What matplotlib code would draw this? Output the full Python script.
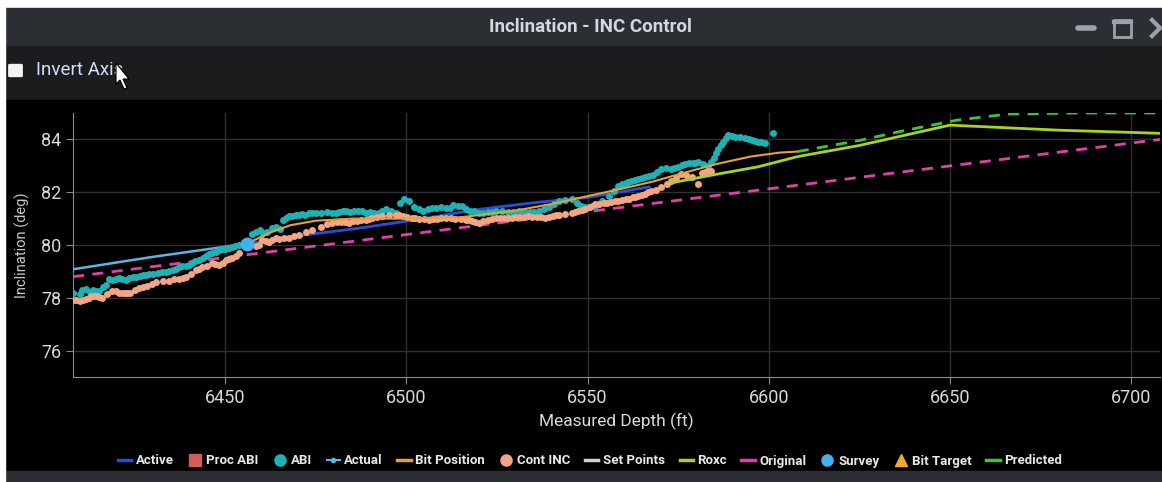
import matplotlib.pyplot as plt
from matplotlib.lines import Line2D
from matplotlib.patches import Rectangle, Polygon, FancyBboxPatch

W, H = 1162, 482

# measured depth (ft) / inclination (deg) for each series
actual_md = [6408, 6430, 6456]
actual_inc = [79.08, 79.55, 80.05]

active_md = [6456, 6470, 6485, 6500, 6520, 6535, 6550, 6567]
active_inc = [80.05, 80.35, 80.6, 80.9, 81.35, 81.6, 81.8, 82.2]

bitpos_md = [6456, 6462, 6468, 6475, 6485, 6500, 6515, 6530, 6540, 6550,
             6560, 6568, 6577, 6586, 6595, 6603, 6608]
bitpos_inc = [80.05, 80.45, 80.75, 80.92, 81.0, 81.0, 81.05, 81.3, 81.55, 81.85,
              82.15, 82.4, 82.75, 83.08, 83.35, 83.5, 83.54]

roxc_md = [6573, 6586, 6597, 6608, 6625, 6650, 6680, 6708]
roxc_inc = [82.35, 82.69, 82.96, 83.35, 83.77, 84.54, 84.35, 84.23]

predicted_md = [6608, 6625, 6638, 6652, 6666, 6685, 6708]
predicted_inc = [83.54, 83.96, 84.35, 84.73, 84.96, 85.0, 85.0]

original_md = [6408, 6708]
original_inc = [78.8, 84.0]

survey_md = [6456]
survey_inc = [80.05]

abi_md = [6408.0, 6409.8, 6411.7, 6413.5, 6415.3, 6417.0, 6418.0, 6419.8, 6421.6, 6423.5,
          6425.5, 6427.3, 6429.1, 6431.4, 6433.7, 6435.5, 6437.3, 6439.1, 6440.9, 6442.8,
          6444.8, 6446.5, 6448.3, 6450.0, 6451.9, 6453.8, 6458.5, 6460.5, 6462.9, 6465.0,
          6466.8, 6468.5, 6470.4, 6472.0, 6474.0, 6476.5, 6479.5, 6481.5, 6483.3, 6485.5,
          6487.7, 6490.0, 6492.4, 6494.4, 6497.1, 6499.3, 6500.7, 6503.4, 6506.0, 6508.1,
          6511.0, 6513.0, 6515.3, 6517.5, 6520.0, 6522.5, 6524.7, 6528.0, 6531.0, 6534.0,
          6536.5, 6539.5, 6542.0, 6545.6, 6548.3, 6550.5, 6552.2, 6555.8, 6558.5, 6560.5,
          6562.1, 6564.0, 6566.0, 6568.0, 6570.4, 6573.1, 6575.0, 6577.0, 6579.0, 6580.6,
          6583.3, 6584.8, 6586.1, 6587.5, 6588.8, 6590.8, 6593.5, 6595.5, 6597.1, 6599.0,
          6601.2,
          6410.5, 6412.6, 6414.4, 6416.2, 6418.9, 6420.7, 6422.5, 6424.5, 6426.4, 6428.2,
          6430.2, 6432.5, 6434.6, 6436.4, 6438.2, 6440.0, 6441.8, 6443.8, 6445.6, 6447.4,
          6449.2, 6451.0, 6452.8, 6457.5, 6459.5, 6461.5, 6464.0, 6466.0, 6467.6, 6469.5,
          6471.2, 6473.0, 6475.2, 6478.0, 6480.5, 6482.4, 6484.4, 6486.6, 6488.8, 6491.2,
          6493.4, 6495.8, 6498.3, 6502.0, 6504.7, 6507.0, 6509.5, 6512.0, 6514.2, 6516.4,
          6518.7, 6521.2, 6523.6, 6526.3, 6529.5, 6532.5, 6535.2, 6538.0, 6540.8, 6543.8,
          6547.0, 6549.4, 6551.3, 6554.0, 6557.2, 6559.5, 6561.3, 6563.0, 6565.0, 6567.0,
          6569.2, 6571.7, 6574.0, 6576.0, 6578.0, 6579.8, 6581.8, 6584.0, 6585.5, 6586.8,
          6588.2, 6589.8, 6592.0, 6594.5, 6596.3, 6598.0]
abi_inc = [78.20, 78.15, 78.35, 78.30, 78.27, 78.50, 78.70, 78.72, 78.70, 78.74,
           78.77, 78.85, 78.90, 78.94, 78.97, 79.05, 79.17, 79.22, 79.30, 79.45,
           79.60, 79.70, 79.80, 79.86, 79.93, 80.00, 80.50, 80.45, 80.65, 80.60,
           81.04, 81.10, 81.15, 81.12, 81.23, 81.20, 81.23, 81.25, 81.27, 81.30,
           81.27, 81.25, 81.23, 81.35, 81.23, 81.73, 81.65, 81.35, 81.38, 81.42,
           81.40, 81.50, 81.46, 81.30, 81.23, 81.25, 81.27, 81.25, 81.27, 81.25,
           81.27, 81.45, 81.65, 81.73, 81.46, 81.45, 81.46, 81.85, 82.23, 82.35,
           82.42, 82.50, 82.58, 82.65, 82.88, 82.88, 82.95, 83.08, 83.10, 83.15,
           83.00, 83.30, 83.65, 83.90, 84.15, 84.10, 84.04, 83.98, 83.92, 83.88,
           84.23,
           78.28, 78.22, 78.25, 78.40, 78.68, 78.75, 78.68, 78.78, 78.82, 78.88,
           78.92, 78.96, 79.00, 79.10, 79.20, 79.26, 79.38, 79.52, 79.66, 79.75,
           79.84, 79.90, 79.96, 80.40, 80.55, 80.50, 80.70, 80.95, 81.08, 81.12,
           81.18, 81.20, 81.22, 81.25, 81.20, 81.28, 81.25, 81.28, 81.22, 81.20,
           81.30, 81.28, 81.60, 81.45, 81.30, 81.40, 81.45, 81.42, 81.48, 81.38,
           81.27, 81.22, 81.25, 81.28, 81.24, 81.28, 81.26, 81.35, 81.55, 81.70,
           81.60, 81.45, 81.48, 81.65, 82.05, 82.30, 82.38, 82.45, 82.55, 82.62,
           82.75, 82.90, 82.92, 83.02, 83.10, 83.12, 83.08, 83.15, 83.50, 83.80,
           84.05, 84.12, 84.08, 84.00, 83.95, 83.90]

cont_md = [6408.0, 6409.8, 6411.7, 6413.0, 6414.5, 6416.1, 6418.9, 6420.8, 6422.3, 6423.6,
           6426.3, 6428.5, 6431.0, 6434.6, 6437.3, 6439.3, 6442.0, 6443.7, 6446.4, 6448.3,
           6450.3, 6451.9, 6453.9, 6459.4, 6460.2, 6462.1, 6464.0, 6464.9, 6467.6, 6470.4,
           6474.0, 6479.5, 6482.0, 6484.2, 6486.5, 6488.8, 6490.5, 6493.3, 6497.1, 6499.0,
           6501.5, 6503.5, 6506.2, 6508.5, 6510.9, 6513.5, 6516.4, 6518.0, 6520.0, 6522.5,
           6524.7, 6527.0, 6529.1, 6531.5, 6533.7, 6536.0, 6538.4, 6540.5, 6542.0, 6545.6,
           6547.5, 6549.4, 6552.2, 6554.5, 6556.6, 6558.5, 6560.5, 6562.5, 6564.0, 6566.0,
           6567.6, 6570.4, 6573.1, 6575.9, 6578.7, 6580.6, 6582.5, 6584.2,
           6408.9, 6410.7, 6412.3, 6413.8, 6415.3, 6417.5, 6419.8, 6421.5, 6423.0, 6425.0,
           6427.4, 6429.8, 6432.8, 6436.0, 6438.3, 6440.6, 6442.8, 6445.0, 6447.3, 6449.3,
           6451.1, 6452.9, 6458.5, 6461.2, 6463.0, 6466.2, 6469.0, 6472.2, 6476.5, 6478.0,
           6480.8, 6483.1, 6485.3, 6487.6, 6489.7, 6491.9, 6495.2, 6498.0, 6500.3, 6502.5,
           6504.8, 6507.3, 6509.7, 6512.2, 6515.0, 6517.2, 6519.0, 6521.2, 6523.6, 6525.8,
           6528.0, 6530.3, 6532.6, 6534.8, 6537.2, 6539.5, 6541.2, 6543.8, 6546.5, 6548.5,
           6550.8, 6553.3, 6555.5, 6557.5, 6559.5, 6561.5, 6563.2, 6565.0, 6566.8, 6569.0,
           6571.8, 6574.5, 6577.3, 6581.5, 6583.3]
cont_inc = [77.92, 77.88, 77.96, 78.05, 78.08, 78.00, 78.27, 78.20, 78.18, 78.20,
            78.38, 78.45, 78.58, 78.65, 78.73, 78.77, 79.04, 79.15, 79.30, 79.23,
            79.42, 79.50, 79.70, 80.00, 80.19, 80.12, 80.27, 80.23, 80.27, 80.38,
            80.58, 80.85, 80.88, 80.85, 80.92, 80.96, 81.04, 81.08, 81.15, 81.10,
            81.04, 81.00, 80.96, 81.00, 81.04, 81.00, 80.96, 80.90, 80.85, 80.95,
            81.04, 81.02, 81.04, 81.06, 81.08, 81.06, 81.04, 81.10, 81.15, 81.23,
            81.28, 81.35, 81.54, 81.58, 81.62, 81.68, 81.73, 81.80, 81.85, 81.95,
            82.04, 82.19, 82.42, 82.69, 82.58, 82.30, 82.77, 82.81,
            77.90, 77.92, 78.00, 78.06, 78.04, 78.15, 78.24, 78.19, 78.19, 78.30,
            78.42, 78.52, 78.62, 78.70, 78.75, 78.90, 79.10, 79.22, 79.27, 79.33,
            79.46, 79.60, 79.95, 80.15, 80.20, 80.25, 80.33, 80.48, 80.70, 80.80,
            80.87, 80.86, 80.90, 80.94, 81.00, 81.06, 81.12, 81.12, 81.07, 81.02,
            80.98, 80.98, 81.02, 81.02, 80.98, 80.93, 80.87, 80.90, 81.00, 81.03,
            81.03, 81.05, 81.07, 81.07, 81.05, 81.07, 81.12, 81.19, 81.25, 81.31,
            81.45, 81.56, 81.60, 81.65, 81.70, 81.76, 81.82, 81.90, 82.00, 82.10,
            82.30, 82.55, 82.64, 82.72, 82.79]

x_ticks = [6450, 6500, 6550, 6600, 6650, 6700]
y_ticks = [76, 78, 80, 82, 84]

NARROW = ['Roboto', 'DejaVu Sans']
TXT = '#d6d8dc'

fig = plt.figure(figsize=(W / 100, H / 100), dpi=100, facecolor='#000000')


def fx(px):
    return px / W


def fy(py):
    return 1 - py / H


def band(x0, y0, x1, y1, color):
    fig.patches.append(Rectangle((fx(x0), fy(y1)), fx(x1) - fx(x0), fy(y0) - fy(y1),
                                 transform=fig.transFigure, color=color, zorder=-10))


# window chrome
band(0, 0, W, 8, '#ffffff')
band(0, 8, W, 46, '#2b2e33')
band(0, 46, W, 100, '#1b1c1e')
band(0, 100, W, 471, '#000000')
band(0, 471, W, H, '#2a2d31')
band(0, 0, 5, H, '#ffffff')

fig.text(fx(590), fy(27), 'Inclination - INC Control', ha='center', va='center',
         color='#d3d8e0', fontsize=13.5, fontweight='bold', family=NARROW)

# minimise / maximise / close buttons
fig.lines.append(Line2D([fx(1078), fx(1094)], [fy(28), fy(28)], transform=fig.transFigure,
                        color='#9ba2ab', lw=4, solid_capstyle='round'))
fig.patches.append(Rectangle((fx(1114), fy(37)), fx(17), 17 / H, transform=fig.transFigure,
                             fill=False, ec='#9ba2ab', lw=2))
fig.lines.append(Line2D([fx(1114), fx(1131)], [fy(22), fy(22)], transform=fig.transFigure,
                        color='#9ba2ab', lw=3))
fig.lines.append(Line2D([fx(1152), fx(1160), fx(1152)], [fy(20), fy(28), fy(36)],
                        transform=fig.transFigure, color='#9ba2ab', lw=3))

# invert axis checkbox
fig.patches.append(FancyBboxPatch((fx(10), fy(76)), fx(11), 11 / H,
                                  boxstyle='round,pad=0.001', transform=fig.transFigure,
                                  color='#f2f2f2'))
fig.text(fx(36), fy(70), 'Invert Axis', ha='left', va='center', color='#cfe0f8',
         fontsize=13.5, family=NARROW)

# mouse pointer
cursor = [(116, 63), (116, 84), (120, 80), (124, 89), (127, 88), (123, 79), (129, 79)]
fig.patches.append(Polygon([(fx(a), fy(b)) for a, b in cursor], closed=True,
                           transform=fig.transFigure, fc='#ffffff', ec='#000000', lw=0.8,
                           zorder=5))

ax = fig.add_axes([fx(73), fy(377), fx(1160) - fx(73), (377 - 113) / H])
ax.set_facecolor('#000000')

ax.plot(original_md, original_inc, color='#e040a8', lw=2, dashes=(4, 3), zorder=2)
ax.plot(actual_md, actual_inc, color='#5ab4e6', lw=1.8, zorder=3)
ax.plot(active_md, active_inc, color='#2450d8', lw=2, zorder=3)
ax.plot(abi_md, abi_inc, 'o', color='#1fb2b4', ms=5, mec='none', zorder=4)
ax.plot(cont_md, cont_inc, 'o', color='#f4a584', ms=5, mec='none', zorder=5)
ax.plot(bitpos_md, bitpos_inc, color='#e8a035', lw=1.5, zorder=6)
ax.plot(roxc_md, roxc_inc, color='#a8d41a', lw=2, zorder=6)
ax.plot(predicted_md, predicted_inc, color='#3cc43c', lw=2, dashes=(4, 3), zorder=6)
ax.plot(survey_md, survey_inc, 'o', color='#44b0f2', ms=10, mec='none', zorder=7)

ax.set_xlim(6408, 6708)
ax.set_ylim(75, 85)
ax.set_xticks(x_ticks)
ax.set_yticks(y_ticks)
ax.grid(True, color='#303030', lw=1)
ax.set_axisbelow(True)
for side in ['top', 'right']:
    ax.spines[side].set_visible(False)
for side in ['left', 'bottom']:
    ax.spines[side].set_color('#8a8a8a')
ax.tick_params(colors='#8a8a8a', length=5, labelcolor=TXT, labelsize=13)
for lab in ax.get_xticklabels() + ax.get_yticklabels():
    lab.set_family(NARROW)

ax.set_xlabel('Measured Depth (ft)', color=TXT, fontsize=12.5, family=NARROW, labelpad=4)
fig.text(fx(22), fy(245), 'Inclination (deg)', rotation=90, ha='center', va='center',
         color='#c8c8c8', fontsize=10.5, family=NARROW)

handles = [
    Line2D([], [], color='#2450d8', lw=2.5),
    Line2D([], [], ls='none', marker='s', color='#d65a5a', ms=8),
    Line2D([], [], ls='none', marker='o', color='#1fb2b4', ms=8),
    Line2D([], [], color='#5ab4e6', lw=1.5, marker='o', ms=3),
    Line2D([], [], color='#e8a035', lw=2.5),
    Line2D([], [], ls='none', marker='o', color='#f4a584', ms=8),
    Line2D([], [], color='#d0d0d0', lw=2.5),
    Line2D([], [], color='#a8d41a', lw=2.5),
    Line2D([], [], color='#e040a8', lw=2.5),
    Line2D([], [], ls='none', marker='o', color='#44b0f2', ms=8),
    Line2D([], [], ls='none', marker='^', color='#f0a830', ms=8),
    Line2D([], [], color='#3cc43c', lw=2.5),
]
labels = ['Active', 'Proc ABI', 'ABI', 'Actual', 'Bit Position', 'Cont INC',
          'Set Points', 'Roxc', 'Original', 'Survey', 'Bit Target', 'Predicted']
leg = fig.legend(handles, labels, loc='center', bbox_to_anchor=(fx(590), fy(461)),
                 ncol=12, frameon=False, handlelength=1.0, handletextpad=0.35,
                 columnspacing=1.1, prop={'family': NARROW, 'weight': 'bold', 'size': 9.5})
for t in leg.get_texts():
    t.set_color('#e8e8e8')

fig.savefig('out.png', dpi=100, facecolor=fig.get_facecolor())
